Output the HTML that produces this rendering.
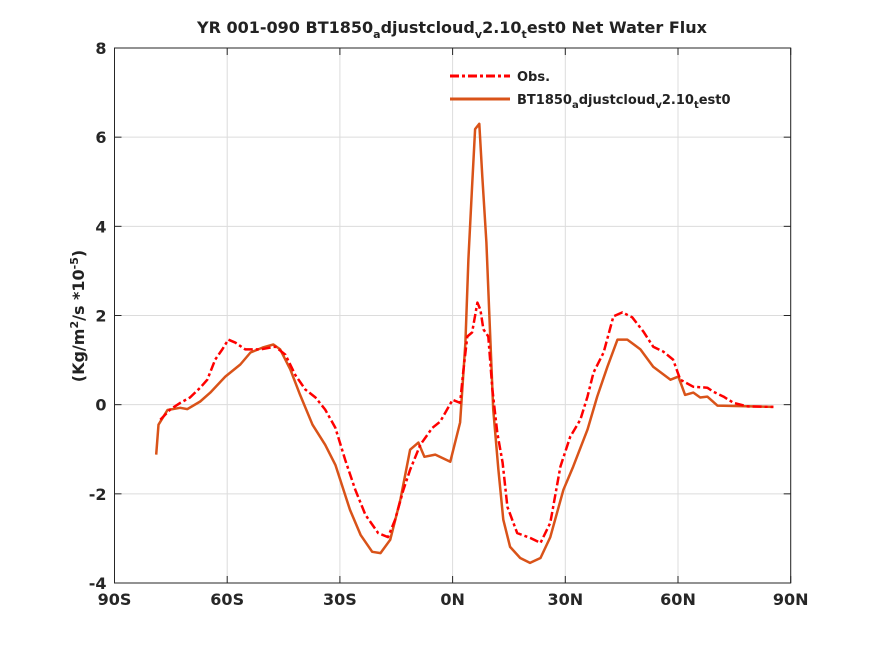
<!DOCTYPE html>
<html><head><meta charset="utf-8"><style>
body{margin:0;background:#fff;}
text{font-family:"DejaVu Sans","Liberation Sans",sans-serif;font-weight:bold;}
</style></head><body>
<svg id="chart" width="875" height="656" viewBox="0 0 875 656" xmlns="http://www.w3.org/2000/svg">
<rect x="0" y="0" width="875" height="656" fill="#fff"/>
<text x="452" y="33" text-anchor="middle" font-size="16" fill="#222">YR 001-090 BT1850<tspan font-size="11" dy="5">a</tspan><tspan dy="-5">djustcloud</tspan><tspan font-size="11" dy="5">v</tspan><tspan dy="-5">2.10</tspan><tspan font-size="11" dy="5">t</tspan><tspan dy="-5">est0  Net Water Flux</tspan></text>
<g id="grid"></g>
<g id="axes"></g>
<g id="series"></g>
<text transform="translate(84,316) rotate(-90)" text-anchor="middle" font-size="16" fill="#222">(Kg/m<tspan font-size="11" dy="-6">2</tspan><tspan dy="6">/s *10</tspan><tspan font-size="11" dy="-6">-5</tspan><tspan dy="6">)</tspan></text>
<g>
<line x1="450" y1="76" x2="510" y2="76" stroke="#ff0000" stroke-width="3" stroke-dasharray="9,3,3,3"/>
<text x="517" y="81" font-size="13" fill="#222">Obs.</text>
<line x1="450" y1="99" x2="510" y2="99" stroke="#d95319" stroke-width="3"/>
<text x="517" y="104" font-size="13" fill="#222">BT1850<tspan font-size="10" dy="4">a</tspan><tspan dy="-4">djustcloud</tspan><tspan font-size="10" dy="4">v</tspan><tspan dy="-4">2.10</tspan><tspan font-size="10" dy="4">t</tspan><tspan dy="-4">est0</tspan></text>
</g>
</svg>
<script>
const xTicks=[-90,-60,-30,0,30,60,90];
const xTickLabels=["90S","60S","30S","0N","30N","60N","90N"];
const yTicks=[-4,-2,0,2,4,6,8];
const yTickLabels=["-4","-2","0","2","4","6","8"];
const modelLat=[-78.9,-78.3,-75.9,-72.5,-70.6,-67.2,-64.5,-60.5,-56.5,-53.8,-50.6,-47.7,-45.9,-43.2,-40.6,-37.3,-33.9,-31.2,-27.3,-24.5,-21.4,-19.2,-16.6,-13.9,-11.3,-9.1,-7.5,-4.6,-0.6,2.0,3.4,4.2,5.2,6.0,7.1,7.9,9.0,9.8,10.8,12.2,13.5,15.3,18.0,20.6,23.4,26.0,29.5,32.1,35.9,38.5,41.2,43.9,46.5,50.0,53.4,58.0,60.1,61.9,64.1,65.9,67.8,70.5,85.4];
const modelVal=[-1.12,-0.45,-0.12,-0.07,-0.1,0.07,0.27,0.63,0.9,1.17,1.28,1.35,1.24,0.79,0.22,-0.45,-0.9,-1.35,-2.36,-2.92,-3.3,-3.33,-3.03,-2.13,-1.01,-0.85,-1.17,-1.12,-1.28,-0.4,1.39,3.26,4.9,6.18,6.3,5.12,3.64,1.98,-0.1,-1.46,-2.58,-3.19,-3.44,-3.55,-3.44,-2.97,-1.91,-1.39,-0.56,0.18,0.85,1.46,1.46,1.24,0.85,0.56,0.63,0.22,0.27,0.16,0.18,-0.02,-0.05];
const obsLat=[-77.8,-75.2,-72.5,-69.9,-67.2,-65.3,-63.2,-61.3,-59.7,-57.8,-55.2,-51.2,-47.2,-44.5,-41.9,-39.2,-36.5,-33.9,-31.2,-28.6,-25.9,-23.2,-19.8,-17.2,-15.3,-13.1,-11.3,-8.6,-5.4,-3.3,0,2.0,2.9,3.9,5.2,6.6,7.4,8.2,9.5,10.6,11.9,13.3,14.6,17.2,20.7,23.4,26.0,28.7,31.3,34.0,35.9,37.5,40.2,42.8,45.2,47.8,50.8,53.4,56.1,58.7,60.6,64.1,67.8,69.4,72.1,74.8,78.5,85.4];
const obsVal=[-0.34,-0.11,0.04,0.16,0.38,0.56,1.01,1.24,1.46,1.39,1.24,1.24,1.3,1.12,0.67,0.34,0.16,-0.11,-0.52,-1.24,-1.91,-2.47,-2.88,-2.97,-2.58,-1.91,-1.46,-0.9,-0.52,-0.38,0.11,0.04,0.79,1.53,1.62,2.29,2.13,1.69,1.53,0.34,-0.63,-1.3,-2.29,-2.88,-2.99,-3.1,-2.65,-1.39,-0.72,-0.34,0.18,0.72,1.17,1.98,2.07,1.96,1.64,1.3,1.19,1.01,0.56,0.4,0.38,0.29,0.18,0.04,-0.04,-0.05];
const L=114.5,R=790.7,T=48,B=583;
const xs=v=>L+(v+90)/180*(R-L);
const ys=v=>B-(v+4)/12*(B-T);
const NS="http://www.w3.org/2000/svg";
function mk(tag,attrs,parent){const e=document.createElementNS(NS,tag);for(const k in attrs)e.setAttribute(k,attrs[k]);parent.appendChild(e);return e;}
const grid=document.getElementById('grid'),axes=document.getElementById('axes'),series=document.getElementById('series');
xTicks.forEach((t,i)=>{
 const g=mk('line',{x1:xs(t),x2:xs(t),y1:T,y2:B,stroke:'#dcdcdc','stroke-width':1},grid);
 
 
 mk('line',{x1:xs(t),x2:xs(t),y1:B,y2:B-7,stroke:'#262626'},axes);
 mk('line',{x1:xs(t),x2:xs(t),y1:T,y2:T+7,stroke:'#262626'},axes);
 const tx=mk('text',{x:xs(t),y:B+22,'text-anchor':'middle','font-size':16,fill:'#262626'},axes);
 tx.textContent=xTickLabels[i];
 
 
});
yTicks.forEach((t,i)=>{
 const g=mk('line',{x1:L,x2:R,y1:ys(t),y2:ys(t),stroke:'#dcdcdc','stroke-width':1},grid);
 
 
 mk('line',{x1:L,x2:L+7,y1:ys(t),y2:ys(t),stroke:'#262626'},axes);
 mk('line',{x1:R,x2:R-7,y1:ys(t),y2:ys(t),stroke:'#262626'},axes);
 const tx=mk('text',{x:L-8,y:ys(t)+6,'text-anchor':'end','font-size':16,fill:'#262626'},axes);
 tx.textContent=yTickLabels[i];
 
 
});
const box=mk('rect',{x:L,y:T,width:R-L,height:B-T,fill:'none',stroke:'#262626','stroke-width':1},axes);


function path(lat,val){return lat.map((v,i)=>(i?'L':'M')+xs(v).toFixed(1)+','+ys(val[i]).toFixed(1)).join('');}
const mp=mk('path',{d:path(modelLat,modelVal),fill:'none',stroke:'#d95319','stroke-width':2.5,'stroke-linejoin':'round'},series);


const op=mk('path',{d:path(obsLat,obsVal),fill:'none',stroke:'#ff0000','stroke-width':2.5,'stroke-dasharray':'9,3,3,3','stroke-linejoin':'round'},series);


</script>
</body></html>
